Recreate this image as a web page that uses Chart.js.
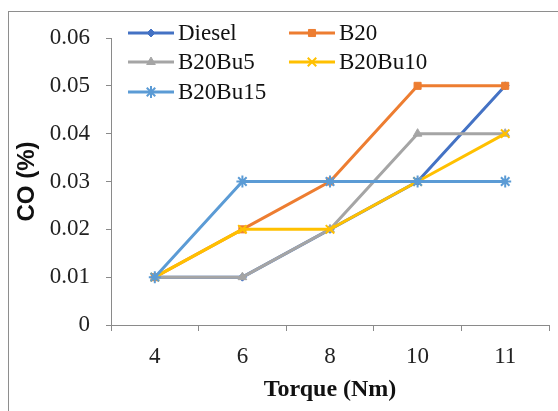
<!DOCTYPE html>
<html>
<head>
<meta charset="utf-8">
<script src="https://cdn.jsdelivr.net/npm/chart.js@4.4.0/dist/chart.umd.min.js"></script>
<style>
  html, body { margin: 0; padding: 0; background: #fff; }
  #wrap { position: relative; width: 558px; height: 411px; overflow: hidden; }
  #frame { position: absolute; left: 8px; top: 11px; width: 600px; height: 500px; border: 1px solid #8e8e8e; }
  canvas { position: absolute; left: 0; top: 0; }
</style>
</head>
<body>
<div id="wrap">
  <div id="frame"></div>
  <canvas id="chart" width="558" height="411"></canvas>
</div>
<script>
// 扭矩 (Nm) 分类
const torque = ['4', '6', '8', '10', '11'];

// CO (%) 各燃料
const diesel  = [0.01, 0.01, 0.02, 0.03, 0.05];
const b20     = [0.01, 0.02, 0.03, 0.05, 0.05];
const b20bu5  = [0.01, 0.01, 0.02, 0.04, 0.04];
const b20bu10 = [0.01, 0.02, 0.02, 0.03, 0.04];
const b20bu15 = [0.01, 0.03, 0.03, 0.03, 0.03];

const seriesNames = ['Diesel', 'B20', 'B20Bu5', 'B20Bu10', 'B20Bu15'];

const serif = "'Liberation Serif', 'Times New Roman', serif";

// 后面的系列画在上层（与Excel一致）
function series(idx, data, color, style, radius, bw) {
    return {
        label: seriesNames[idx],
        data: data,
        order: 10 - idx,
        borderColor: color,
        backgroundColor: color,
        pointBackgroundColor: color,
        pointBorderColor: color,
        borderWidth: 3,
        pointStyle: style,
        pointRadius: radius,
        pointBorderWidth: bw,
        tension: 0
    };
}

// 图内图例（两列）
const insideLegend = {
    id: 'insideLegend',
    afterDraw(chart) {
        const ctx = chart.ctx;
        const spots = [[128, 33], [289, 33], [128, 62], [289, 62], [128, 92]];
        ctx.save();
        chart.data.datasets.forEach((ds, i) => {
            const [x, y] = spots[i];
            ctx.strokeStyle = ds.borderColor;
            ctx.fillStyle = ds.backgroundColor;
            ctx.lineWidth = 3;
            ctx.beginPath();
            ctx.moveTo(x, y);
            ctx.lineTo(x + 46, y);
            ctx.stroke();
            ctx.lineWidth = ds.pointBorderWidth;
            Chart.helpers.drawPoint(ctx, {
                pointStyle: ds.pointStyle,
                radius: ds.pointRadius,
                rotation: 0,
                borderWidth: ds.pointBorderWidth
            }, x + 23, y);
            ctx.fillStyle = '#111';
            ctx.font = '23px ' + serif;
            ctx.textBaseline = 'middle';
            ctx.textAlign = 'left';
            ctx.fillText(ds.label, x + 50, y + 1);
        });
        ctx.restore();
    }
};

const ctx = document.getElementById('chart').getContext('2d');
new Chart(ctx, {
    type: 'line',
    data: {
        labels: torque,
        datasets: [
            series(0, diesel, '#4472C4', 'rectRot', 4, 1),
            series(1, b20, '#ED7D31', 'rect', 5, 1),
            series(2, b20bu5, '#A5A5A5', 'triangle', 5, 1),
            series(3, b20bu10, '#FFC000', 'crossRot', 6, 2),
            series(4, b20bu15, '#5B9BD5', 'star', 6, 2)
        ]
    },
    options: {
        responsive: false,
        animation: false,
        layout: { padding: { left: 0, right: 9, top: 38, bottom: 0 } },
        plugins: {
            legend: { display: false },
            tooltip: { enabled: false }
        },
        scales: {
            x: {
                offset: true,
                grid: { offset: true, drawOnChartArea: false, tickLength: 6, color: '#8a8a8a' },
                border: { color: '#8a8a8a', width: 1 },
                ticks: { color: '#222', padding: 12, font: { family: serif, size: 23 } },
                title: {
                    display: true, text: 'Torque (Nm)', color: '#111',
                    font: { family: serif, size: 24, weight: 'bold' },
                    padding: { top: 0, bottom: 7 }
                },
                afterFit(scale) { scale.height = 86; }
            },
            y: {
                min: 0, max: 0.06,
                grid: { drawOnChartArea: false, tickLength: 5, color: '#8a8a8a' },
                border: { color: '#8a8a8a', width: 1 },
                ticks: {
                    stepSize: 0.01, color: '#222', padding: 16,
                    font: { family: serif, size: 23 },
                    callback: v => v === 0 ? '0' : v.toFixed(2)
                },
                title: {
                    display: true, text: 'CO (%)', color: '#111',
                    font: { family: "'Liberation Sans', Arial, sans-serif", size: 24, weight: 'bold' },
                    padding: { top: 13, bottom: 0 }
                },
                afterFit(scale) { scale.width = 111; }
            }
        }
    },
    plugins: [insideLegend]
});
</script>
</body>
</html>
